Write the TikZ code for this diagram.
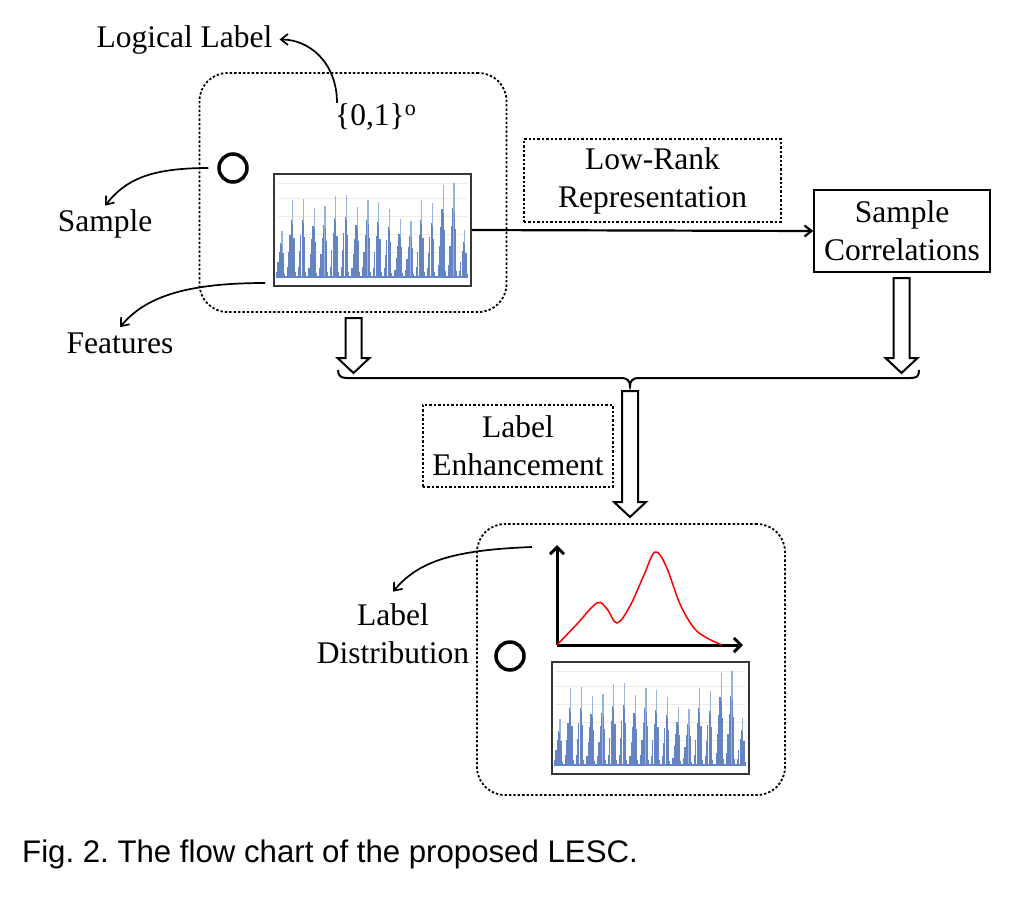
\documentclass[tikz,border=0pt]{standalone}
\usepackage{fontspec}
\setmainfont{Liberation Serif}
\setsansfont{Liberation Sans}
\usepackage{tikz}
\usetikzlibrary{arrows.meta, positioning}
\usepackage{xcolor}
\definecolor{barblue}{RGB}{100,132,194}
\definecolor{barlight}{RGB}{156,178,220}
\definecolor{gridgray}{RGB}{236,236,236}
\definecolor{framegray}{RGB}{55,55,55}
\frenchspacing

\newcommand{\featurebars}{%
  \foreach \g in {0.30,0.46,0.62,0.78,0.92}
    \draw[gridgray, line width=0.6pt] (0.02,\g) -- (0.98,\g);
  \foreach \h [count=\i from 0] in {0.50,0.82,0.83,0.74,0.76,0.86,0.87,0.75,0.82,0.80,0.73,0.62,0.60,0.82,0.79,0.98,1.00,0.51} {
    \pgfmathsetmacro{\cx}{0.037+0.0546*\i}
    \foreach \dx/\f in {-0.026/0.14,-0.020/0.34,-0.013/0.55,-0.006/0.74}
      \fill[barblue] ({\cx+\dx},0.07) rectangle ++(0.006,{0.85*\f*\h});
    \fill[barlight] (\cx,0.07) rectangle ++(0.0065,{0.85*\h});
    \fill[barblue] ({\cx+0.001},0.07) rectangle ++(0.004,{0.85*0.70*\h});
    \fill[barblue] ({\cx+0.006},0.07) rectangle ++(0.0065,{0.85*0.52*\h});
    \fill[barblue] ({\cx+0.013},0.07) rectangle ++(0.004,{0.85*0.08*\h});
  }
  \fill[barblue] (0.02,0.07) rectangle (0.98,0.085);
}

\newcommand{\hollowdown}[3]{%
  \draw[blockarrow] (#1-8,#2) -- (#1-8,#3-15) -- (#1-16,#3-15) -- (#1,#3)
    -- (#1+16,#3-15) -- (#1+8,#3-15) -- (#1+8,#2) -- cycle;}

\begin{document}
\begin{tikzpicture}[x=1pt, y=-1pt, >={Straight Barb[length=7pt, width=11pt]}]
    \tikzstyle{lbl} = [inner sep=0pt, font=\fontsize{31.5}{38}\selectfont]
    \tikzstyle{textbox} = [lbl, align=center, inner sep=8pt]
    \tikzstyle{dotbox} = [draw, line width=1.8pt, dash pattern=on 2.4pt off 2pt]
    \tikzstyle{groupbox} = [dotbox, rounded corners=28pt]
    \tikzstyle{histframe} = [draw=framegray, line width=2pt]
    \tikzstyle{pointer} = [->, line width=1.7pt]
    \tikzstyle{axis} = [-{Straight Barb[length=7pt, width=14pt]}, line width=3pt]
    \tikzstyle{blockarrow} = [line width=2pt, line join=miter, fill=white]
    \tikzstyle{dot} = [circle, draw, line width=3.5pt, minimum size=28pt, inner sep=0pt]
    \fill[white] (0,0) rectangle (1017,900);
    \useasboundingbox (0,0) rectangle (1017,900);

    % input sample
    \node[groupbox, minimum width=307pt, minimum height=239pt] (inbox) at (353,192.5) {};
    \node[lbl, anchor=base] (logical) at (184.5,47) {Logical Label};
    \node[lbl, anchor=base west] (bits) at (335,125) {\{0,1\}\textsuperscript{o}};
    \node[dot] (samp) at (233,168) {};
    \node[lbl, anchor=base] (samplelbl) at (105,231.7) {Sample};
    \begin{scope}[shift={(274,286)}, x=197pt, y=112pt]
        \featurebars
    \end{scope}
    \node[histframe, minimum width=197pt, minimum height=112pt] (feat) at (372.5,230) {};
    \node[lbl, anchor=base] (featlbl) at (120,353) {Features};
    \draw[pointer] ([xshift=2pt]bits.north west) .. controls +(0,-40) and +(30,0) .. ([xshift=7pt]logical.east);
    \draw[pointer] ([xshift=-9pt]samp.west) .. controls +(-60,0) and +(20,-25) .. ([yshift=4pt]samplelbl.north);
    \draw[pointer] ([xshift=-8pt, yshift=4pt]feat.south west) .. controls +(-80,0) and +(25,-30) .. ([yshift=5pt]featlbl.north);

    % correlations
    \node[textbox, dotbox, minimum width=257pt, minimum height=81pt] (lowrank) at (652.5,180.5) {Low-Rank\\Representation};
    \node[textbox, draw, line width=1.5pt, minimum width=176pt, minimum height=82pt] (corr) at (902,231) {Sample\\Correlations};
    \draw[pointer, line width=2.2pt] (feat.east) -- (corr.west);

    % merge
    \hollowdown{353.5}{318}{373}
    \hollowdown{901.5}{278}{373}
    \draw[line width=2pt] (338,370) .. controls (338,376) and (341,378) .. (347,378) -- (622,378)
        .. controls (627,378) and (630,381) .. (630,386) .. controls (630,381) and (633,378) .. (638,378)
        -- (911,378) .. controls (917,378) and (919,376) .. (919,370);
    \hollowdown{630}{391}{517}
    \node[textbox, dotbox, minimum width=190pt, minimum height=82pt] (enhance) at (518,446) {Label\\Enhancement};

    % output sample
    \node[groupbox, minimum width=308pt, minimum height=271pt] (outbox) at (631,659.5) {};
    \coordinate (origin) at (557,645);
    \coordinate (ytop) at (557,545);
    \coordinate (xend) at (743,645);
    \draw[axis] (origin) -- (ytop);
    \draw[axis] (origin) -- (xend);
    \draw[red, line width=1.5pt] plot[smooth, tension=0.6] coordinates {(557,645) (577,624) (597,603) (607,609) (617,623) (630,606) (644,575) (655,552) (666,566) (680,604) (694,628) (707,638) (722,645)};
    \begin{scope}[shift={(552,774)}, x=197pt, y=112pt]
        \featurebars
    \end{scope}
    \node[histframe, minimum width=197pt, minimum height=112pt] (featout) at (650.5,718) {};
    \node[dot] (sampout) at (510,656) {};
    \node[lbl, align=center] (distlbl) at (393,634) {Label\\Distribution};
    \coordinate (distfrom) at (532,547);
    \draw[pointer] (distfrom) .. controls +(-80,3) and +(25,-30) .. ([yshift=12pt]distlbl.north);

    \node[anchor=base west, inner sep=0pt, font=\sffamily\fontsize{31.2}{37}\selectfont] (caption) at (22,862) {Fig. 2. The flow chart of the proposed LESC.};
\end{tikzpicture}
\end{document}
